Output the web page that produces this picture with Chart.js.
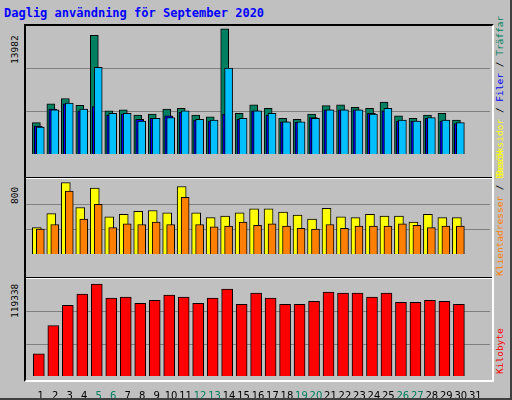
<!DOCTYPE html>
<html><head><meta charset="utf-8">
<script src="https://cdn.jsdelivr.net/npm/chart.js@4"></script>
<style>
body{margin:0;background:#fff}
#wrap{position:relative;width:510px;height:398px;background:#c0c0c0;border-right:2px solid #404040;border-bottom:2px solid #404040;overflow:hidden;font-family:"DejaVu Sans Mono",monospace}
.box{position:absolute}
#frame{left:24px;top:24px;width:466px;height:354px;border-top:2px solid #000;border-left:2px solid #000;border-right:2px solid #fff;border-bottom:2px solid #fff}
.sep{position:absolute;left:26px;width:466px;height:1px;background:#000;border-bottom:1px solid #fff}
.vl{position:absolute;transform:rotate(-90deg);transform-origin:left top;font-size:9.5px;white-space:nowrap}
canvas{display:block}
</style></head><body>
<div id="wrap">
<div class="box" style="left:4px;top:6px;color:#0000ff;font-weight:bold;font-size:12px">Daglig användning för September 2020</div>
<div class="box" id="frame"></div>
<div class="sep" style="top:177px"></div>
<div class="sep" style="top:277px"></div>
<div class="vl" style="left:9px;top:64px">13982</div>
<div class="vl" style="left:9px;top:204px">800</div>
<div class="vl" style="left:9px;top:318px">119338</div>
<div class="vl" style="left:494px;top:176px"><span style="color:#ffff00">Besöksidor</span> / <span style="color:#0000ff">Filer</span> / <span style="color:#008060">Träffar</span></div>
<div class="vl" style="left:494px;top:276px"><span style="color:#ff8000">Klientadresser</span> / <span style="color:#ffff00">Besök</span></div>
<div class="vl" style="left:494px;top:374px;color:#ff0000">Kilobyte</div>
<canvas class="box" id="c1" width="464" height="150" style="left:26px;top:26px"></canvas>
<canvas class="box" id="c2" width="464" height="96" style="left:26px;top:180px"></canvas>
<canvas class="box" id="c3" width="464" height="118" style="left:26px;top:280px"></canvas>
</div>
<script>
const days = Array.from({length: 30}, (_, i) => i + 1);
const dayLabels = ["1","2","3","4","5","6","7","8","9","10","11","12","13","14","15","16","17","18","19","20","21","22","23","24","25","26","27","28","29","30","31"];
const weekendDays = [5, 6, 12, 13, 19, 20, 26, 27];
const hits = [3420,5470,6060,5310,12960,4720,4820,4260,4350,4910,5000,4260,4070,13680,4450,5380,5000,3890,3800,4350,5280,5380,5100,5000,5660,4170,3890,4260,4450,3700];
const files = [3045,4910,5470,4720,5190,4260,4350,3790,3885,4165,4540,3700,3605,4350,3790,4720,4260,3510,3450,3980,4815,4815,4815,4445,4720,3605,3605,3885,3605,3330];
const pages = [2950,4815,5560,4910,9480,4445,4445,3605,3885,3980,4720,3790,3700,9385,3885,4720,4445,3510,3510,3885,4815,4815,4815,4350,5000,3700,3605,3980,3700,3420];
const visits = [285,436,772,503,713,403,428,461,470,445,730,445,394,411,445,487,487,453,420,378,495,403,394,428,411,411,344,428,394,394];
const sites = [269,319,680,378,537,285,327,319,344,319,613,319,294,302,344,310,327,302,277,269,319,277,302,302,302,327,310,285,302,302];
const kbytes = [27630,62800,87930,101740,114300,96720,97980,90440,94210,100490,97980,90440,96720,108020,89180,103000,96720,89180,89180,92950,104260,103000,103000,97980,103000,91700,91700,94210,92950,89180];
const maxHits = 13982, maxVisits = 800, maxKb = 119338;

function ds(vals, shift, color, w, order) {
  return {data: vals.map((v, i) => ({x: days[i] + shift, y: v})), backgroundColor: color, order: order,
    borderColor: '#000', borderWidth: 1, barThickness: w, borderSkipped: 'bottom', grouped: false};
}
function make(id, sets, max, showX) {
  new Chart(document.getElementById(id), {
    type: 'bar',
    data: {datasets: sets},
    options: {
      animation: false, responsive: false,
      layout: {padding: 0},
      plugins: {legend: {display: false}, tooltip: {enabled: false}},
      scales: {
        x: {type: 'linear', min: 0.5, max: 31.5, display: showX,
          grid: {display: false}, border: {display: false},
          afterBuildTicks: a => { a.ticks = dayLabels.map((_, i) => ({value: i + 1})); },
          afterFit: a => { a.height = 22; },
          ticks: {autoSkip: false, maxRotation: 0, padding: 6, callback: v => dayLabels[v - 1],
            color: c => weekendDays.includes(c.tick.value) ? '#008060' : '#000',
            font: {family: 'DejaVu Sans', size: 10}}},
        y: {min: 0, max: max, border: {display: false},
          afterBuildTicks: a => { a.ticks = [{value: max / 3}, {value: 2 * max / 3}]; },
          afterFit: a => { a.width = 0; },
          ticks: {display: false}, grid: {color: '#808080', lineWidth: 1, drawTicks: false}}
      }
    }
  });
}
make('c1', [ds(hits, -0.3, '#008060', 8, 3), ds(files, -0.17, '#0000ff', 8, 2), ds(pages, -0.03, '#00bfff', 8, 1)], maxHits, false);
make('c2', [ds(visits, -0.27, '#ffff00', 9, 2), ds(sites, -0.03, '#ff8000', 8, 1)], maxVisits, false);
make('c3', [ds(kbytes, -0.13, '#ff0000', 11, 1)], maxKb, true);
</script>
</body></html>
